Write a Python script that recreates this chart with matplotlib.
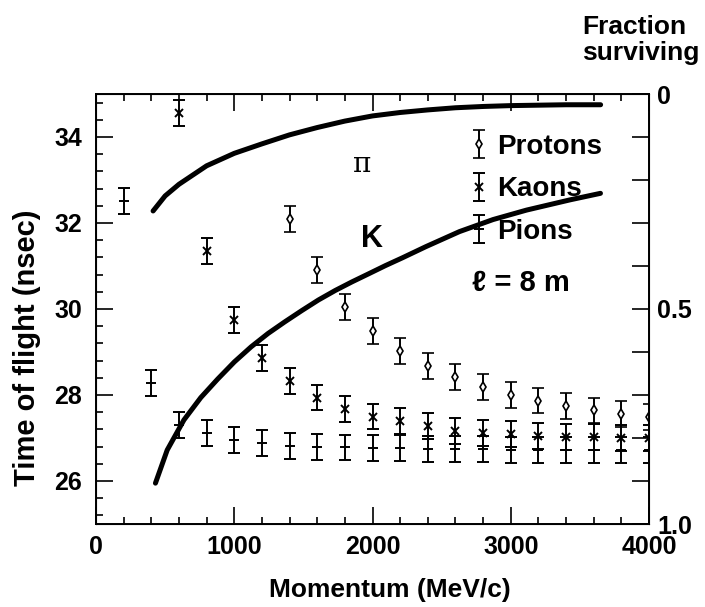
import matplotlib
matplotlib.use('Agg')
import matplotlib.pyplot as plt
from matplotlib.ticker import MultipleLocator

plt.rcParams['font.family'] = ['Liberation Sans', 'DejaVu Sans']
plt.rcParams['font.weight'] = 'bold'
plt.rcParams['axes.labelweight'] = 'bold'

# measured time of flight (ns) vs momentum (MeV/c)
p_protons = [1400, 1600, 1800, 2000, 2200, 2400, 2600, 2800, 3000, 3200, 3400, 3600, 3800, 4000]
t_protons = [32.1, 30.9, 30.05, 29.48, 29.03, 28.68, 28.41, 28.19, 28.0, 27.87, 27.75, 27.64, 27.56, 27.49]

p_kaons = [600, 800, 1000, 1200, 1400, 1600, 1800, 2000, 2200, 2400, 2600, 2800, 3000, 3200, 3400, 3600, 3800, 4000]
t_kaons = [34.56, 31.34, 29.75, 28.86, 28.32, 27.94, 27.68, 27.5, 27.39, 27.27, 27.17, 27.12, 27.09, 27.05, 27.03, 27.02, 27.0, 27.0]

p_pions = [200, 400, 600, 800, 1000, 1200, 1400, 1600, 1800, 2000, 2200, 2400, 2600, 2800, 3000, 3200, 3400, 3600, 3800, 4000]
t_pions = [32.52, 28.28, 27.3, 27.12, 26.96, 26.88, 26.82, 26.8, 26.78, 26.77, 26.76, 26.75, 26.74, 26.74, 26.73, 26.73, 26.72, 26.72, 26.72, 26.72]

t_err = 0.3

# fraction curves (right axis)
p_pi_curve = [413, 500, 600, 800, 1000, 1200, 1400, 1600, 1800, 2000, 2200, 2400, 2600, 2800, 3000, 3200, 3400, 3650]
f_pi_curve = [0.272, 0.237, 0.210, 0.167, 0.138, 0.116, 0.095, 0.078, 0.063, 0.051, 0.043, 0.037, 0.032, 0.029, 0.027, 0.026, 0.025, 0.025]

p_k_curve = [430, 515, 636, 758, 880, 1001, 1122, 1244, 1365, 1487, 1609, 1730, 1851, 1973, 2094, 2216,
             2386, 2629, 2872, 3114, 3431, 3649]
f_k_curve = [0.905, 0.828, 0.758, 0.706, 0.663, 0.623, 0.588, 0.557, 0.530, 0.504, 0.479, 0.457, 0.437, 0.418, 0.399, 0.381,
             0.355, 0.320, 0.292, 0.270, 0.246, 0.231]

fig = plt.figure(figsize=(7.05, 6.07), dpi=100)
ax = fig.add_axes([96 / 705, 1 - 524 / 607, 553 / 705, 430 / 607])

eb = dict(capsize=4, elinewidth=1.4, capthick=1.4, color='black', linestyle='none')
h_p = ax.errorbar(p_protons, t_protons, yerr=t_err, fmt='d', ms=5, mfc='white', mec='black', mew=1.2, **eb)
h_k = ax.errorbar(p_kaons, t_kaons, yerr=t_err, fmt='x', ms=6, mew=1.4, **eb)
h_pi = ax.errorbar(p_pions, t_pions, yerr=t_err, fmt='_', ms=7, mew=1.4, **eb)

ax.set_xlim(0, 4000)
ax.set_ylim(25, 35)
ax.xaxis.set_major_locator(MultipleLocator(1000))
ax.xaxis.set_minor_locator(MultipleLocator(200))
ax.yaxis.set_major_locator(MultipleLocator(2))
ax.yaxis.set_minor_locator(MultipleLocator(0.4))
ax.tick_params(axis='both', which='both', direction='in', top=True, right=False, width=1.2)
ax.tick_params(axis='both', which='major', length=12, labelsize=18)
ax.tick_params(axis='both', which='minor', length=5)
ax.tick_params(axis='x', pad=8)
ax.tick_params(axis='y', pad=10)
for s in ax.spines.values():
    s.set_linewidth(1.4)

ax.set_xlabel('Momentum (MeV/c)', fontsize=19)
ax.xaxis.set_label_coords((390 - 96) / 553, -0.125)
ax.set_ylabel('Time of flight (nsec)', fontsize=21)
ax.yaxis.set_label_coords(-0.1, 0.41)

ax2 = ax.twinx()
ax2.set_ylim(1.0, 0.0)
ax2.set_yticks([0, 0.5, 1.0])
ax2.set_yticklabels(['0', '0.5', '1.0'])
ax2.yaxis.set_minor_locator(MultipleLocator(0.1))
ax2.tick_params(axis='y', which='both', direction='in', length=12, width=1.2, labelsize=18, pad=6)
ax2.plot(p_pi_curve, f_pi_curve, color='black', lw=3.6, solid_capstyle='round', solid_joinstyle='round')
ax2.plot(p_k_curve, f_k_curve, color='black', lw=3.6, solid_capstyle='round', solid_joinstyle='round')

ax.text(1924, 33.36, '\u03c0', fontsize=20, fontweight='normal', family=['DejaVu Serif'], ha='center', va='center')
ax.text(1997, 31.62, 'K', fontsize=22, ha='center', va='center')

leg = ax.legend([h_p, h_k, h_pi], ['Protons', 'Kaons', 'Pions'], loc='upper left',
                bbox_to_anchor=(0.65, 0.94), frameon=False, fontsize=20,
                handlelength=0.7, handletextpad=0.3, labelspacing=0.6, borderpad=0)
ax.text(0.68, 0.56, '\u2113 = 8 m', transform=ax.transAxes, fontsize=21, ha='left', va='center',
        family=['Liberation Sans', 'DejaVu Sans'])

fig.text(582 / 705, 1 - 40 / 607, 'Fraction\nsurviving', fontsize=19, ha='left', va='center', linespacing=1.15)

fig.savefig('out.png', dpi=100)
